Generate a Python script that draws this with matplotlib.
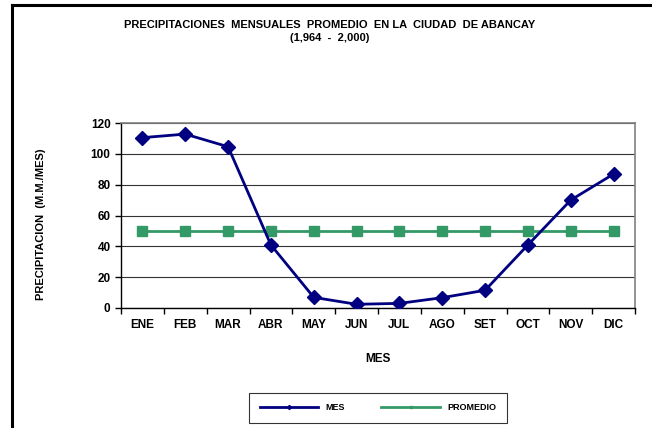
import matplotlib.pyplot as plt
import numpy as np

plt.rcParams['font.family'] = ['Liberation Sans', 'DejaVu Sans']
plt.rcParams['font.weight'] = 'bold'

# Datos
meses = ["ENE", "FEB", "MAR", "ABR", "MAY", "JUN", "JUL", "AGO", "SET", "OCT", "NOV", "DIC"]
precip_mes = [110.5, 112.8, 104.6, 40.9, 6.9, 2.4, 3.0, 6.7, 11.5, 40.9, 70.0, 86.9]
promedio = [49.8] * 12

fig = plt.figure(figsize=(6.52, 4.28), dpi=100)

# Marco del grafico (solo arriba e izquierda visibles)
fig.add_artist(plt.Line2D([12 / 652, 12 / 652], [0, 1 - 5 / 428], color="black", lw=2.2))
fig.add_artist(plt.Line2D([12 / 652, 1], [1 - 5 / 428, 1 - 5 / 428], color="black", lw=2.2))

ax = fig.add_axes([121 / 652, 1 - 308 / 428, (635 - 121) / 652, (308 - 123) / 428])

x = np.arange(len(meses))
ax.plot(x, precip_mes, color="#000080", lw=2, marker="D", markersize=7, label="MES", zorder=4)
ax.plot(x, promedio, color="#339966", lw=2, marker="s", markersize=7, label="PROMEDIO", zorder=3)

ax.set_xlim(-0.5, 11.5)
ax.set_ylim(0, 120)
ax.set_yticks(np.arange(0, 121, 20))
ax.set_xticks(x)
ax.set_xticklabels(meses)
ax.set_xticks(np.arange(-0.5, 12, 1), minor=True)
ax.tick_params(axis="x", which="major", length=0, pad=8, labelsize=8.5)
ax.tick_params(axis="x", which="minor", length=4, width=1, direction="out")
ax.tick_params(axis="y", length=4, width=1, labelsize=8.5)

ax.yaxis.grid(True, color="#333333", lw=0.8)
ax.set_axisbelow(True)
for s in ["top", "right"]:
    ax.spines[s].set_color("#808080")
    ax.spines[s].set_linewidth(1.2)
for s in ["left", "bottom"]:
    ax.spines[s].set_color("black")
    ax.spines[s].set_linewidth(1)

ax.set_xlabel("MES", fontsize=8.5, fontweight="bold")
ax.xaxis.set_label_coords(0.5, -(353 - 308) / 185)
ax.set_ylabel("PRECIPITACION  (M.M./MES)", fontsize=8, fontweight="bold")
ax.yaxis.set_label_coords(-(121 - 46) / 514, 0.45)

fig.text(330 / 652, 1 - 25 / 428, "PRECIPITACIONES  MENSUALES  PROMEDIO  EN LA  CIUDAD  DE ABANCAY",
         ha="center", va="center", fontsize=8, fontweight="bold")
fig.text(330 / 652, 1 - 38 / 428, "(1,964  -  2,000)", ha="center", va="center", fontsize=8, fontweight="bold")

leg = fig.legend(loc="center", bbox_to_anchor=(378 / 652, 1 - 408 / 428), ncol=2,
                 markerscale=0.3, handlelength=6.5, columnspacing=4, frameon=True, fancybox=False,
                 borderpad=1.2, handletextpad=0.8, prop={"weight": "bold", "size": 6.5})
leg.get_frame().set_edgecolor("black")
leg.get_frame().set_linewidth(0.8)

plt.savefig("out.png", dpi=100)
